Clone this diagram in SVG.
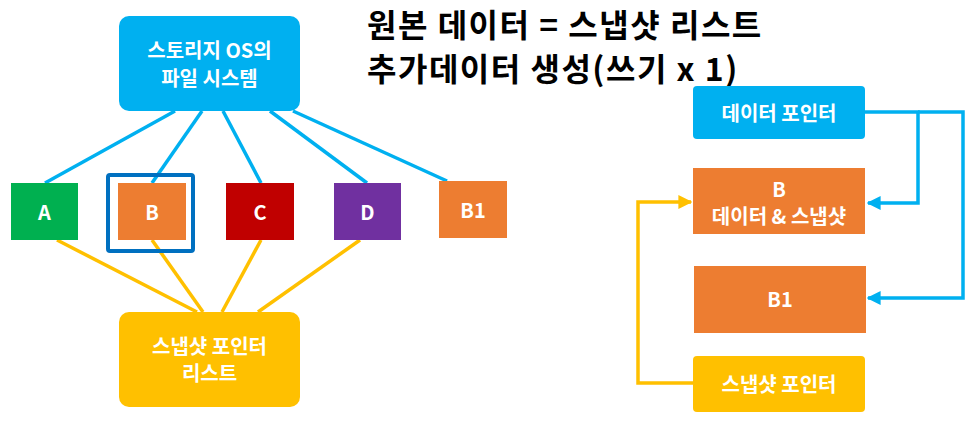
<svg xmlns="http://www.w3.org/2000/svg" width="975" height="422" viewBox="0 0 975 422">
<style>
text{font-family:"Noto Sans CJK KR","Liberation Sans",sans-serif;font-weight:bold;}
.lbl{fill:#fff;font-size:20px;text-anchor:middle;dominant-baseline:central;}
.title{fill:#000;font-size:32px;letter-spacing:1.5px;}
.blue{stroke:#00B0F0;stroke-width:3.5;fill:none;}
.yel{stroke:#FFC000;stroke-width:3.5;fill:none;}
</style>
<defs>
<marker id="ab" viewBox="0 0 10 10" refX="9" refY="5" markerWidth="4" markerHeight="4" orient="auto" markerUnits="strokeWidth"><path d="M0,0L10,5L0,10z" fill="#00B0F0"/></marker>
<marker id="ay" viewBox="0 0 10 10" refX="9" refY="5" markerWidth="4" markerHeight="4" orient="auto" markerUnits="strokeWidth"><path d="M0,0L10,5L0,10z" fill="#FFC000"/></marker>
</defs>
<rect width="975" height="422" fill="#fff"/>
<g id="connectors">
<line class="blue" x1="175" y1="111" x2="45" y2="183"/>
<line class="blue" x1="202" y1="111" x2="152" y2="183"/>
<line class="blue" x1="223" y1="111" x2="261" y2="183"/>
<line class="blue" x1="270" y1="111" x2="367" y2="183"/>
<line class="blue" x1="293" y1="111" x2="447" y2="181"/>
<line class="yel" x1="57" y1="240" x2="197" y2="312"/>
<line class="yel" x1="152" y1="240" x2="203" y2="312"/>
<line class="yel" x1="261" y1="240" x2="222" y2="312"/>
<line class="yel" x1="360" y1="240" x2="258" y2="312"/>
<path class="blue" d="M865,112H918V203H868" marker-end="url(#ab)"/>
<path class="blue" d="M918,112H963V298H868" marker-end="url(#ab)"/>
<path class="yel" d="M693,383H638V202H691" marker-end="url(#ay)"/>
</g>
<g id="title">
<text class="title"><tspan x="367" y="37">원본 데이터 = 스냅샷 리스트</tspan><tspan x="367" y="81">추가데이터 생성(쓰기 x 1)</tspan></text>
</g>
<g id="fs">
<rect x="119" y="16" width="181" height="95" rx="10" fill="#00B0F0"/>
<text class="lbl" x="209.5" y="49">스토리지 OS의</text>
<text class="lbl" x="209.5" y="77">파일 시스템</text>
</g>
<g id="nodeA"><rect x="11" y="183" width="67" height="57" fill="#00B050"/><text class="lbl" x="44.5" y="211">A</text></g>
<g id="highlight"><rect x="108" y="175" width="85" height="76" rx="2" fill="none" stroke="#0070C0" stroke-width="4"/></g>
<g id="nodeB"><rect x="118" y="183" width="68" height="57" fill="#ED7D31"/><text class="lbl" x="152" y="211">B</text></g>
<g id="nodeC"><rect x="226" y="183" width="68" height="57" fill="#C00000"/><text class="lbl" x="260" y="211">C</text></g>
<g id="nodeD"><rect x="334" y="183" width="67" height="57" fill="#7030A0"/><text class="lbl" x="367.5" y="211">D</text></g>
<g id="nodeB1"><rect x="439" y="181" width="68" height="57" fill="#ED7D31"/><text class="lbl" x="473" y="209">B1</text></g>
<g id="snaplist">
<rect x="119" y="312" width="181" height="95" rx="10" fill="#FFC000"/>
<text class="lbl" x="209.5" y="345">스냅샷 포인터</text>
<text class="lbl" x="209.5" y="372">리스트</text>
</g>
<g id="dataptr"><rect x="693" y="86" width="172" height="53" rx="4" fill="#00B0F0"/><text class="lbl" x="779" y="112">데이터 포인터</text></g>
<g id="bdata"><rect x="693" y="168" width="172" height="66" fill="#ED7D31"/><text class="lbl" x="779" y="188">B</text><text class="lbl" x="779" y="215">데이터 &amp; 스냅샷</text></g>
<g id="b1r"><rect x="694" y="266" width="172" height="67" fill="#ED7D31"/><text class="lbl" x="780" y="298">B1</text></g>
<g id="snapptr"><rect x="693" y="356" width="172" height="56" rx="4" fill="#FFC000"/><text class="lbl" x="779" y="383">스냅샷 포인터</text></g>
</svg>
